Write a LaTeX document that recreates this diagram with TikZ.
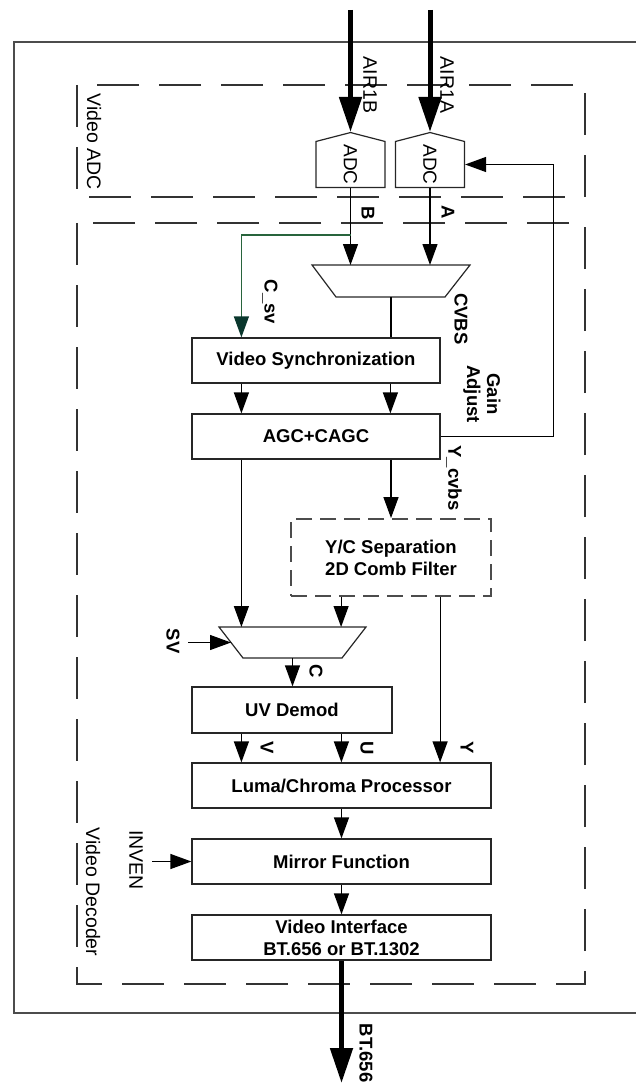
\documentclass[tikz,border=0pt]{standalone}
\usepackage{fontspec}
\setmainfont{Liberation Sans}
\usetikzlibrary{arrows.meta,shapes.symbols}
\definecolor{csvline}{RGB}{40,100,60}
\definecolor{csvtip}{RGB}{10,55,45}

\begin{document}
\begin{tikzpicture}[x=1pt,y=-1pt,
    blk/.style={draw=black!85,line width=1.2pt,fill=white,minimum height=45pt,inner sep=0pt,
      font=\fontsize{18.5}{22}\selectfont\bfseries},
    mux/.style={draw=black!85,line width=1.2pt,line join=miter},
    adc/.style={draw=black!85,line width=1.2pt,signal,signal to=west,signal pointer angle=151,
      rotate=-90,minimum width=55pt,minimum height=69pt,inner sep=0pt,
      font=\fontsize{19}{20}\selectfont},
    lbl/.style={rotate=-90,inner sep=0pt,font=\fontsize{18.5}{20}\selectfont\bfseries},
    tag/.style={rotate=-90,inner sep=0pt,font=\fontsize{19.5}{21}\selectfont},
    arr/.style={line width=1.2pt,-{Triangle[length=21pt,width=15pt]}},
    bigarr/.style={line width=5pt,-{Triangle[length=35pt,width=22pt]}},
    csv/.style={csvline,line width=1.2pt,-{Triangle[length=21pt,width=15pt,color=csvtip]}},
    dashbox/.style={draw=black!80,line width=1.8pt,dash pattern=on 42pt off 20pt},
  ]
  \useasboundingbox (0,0) rectangle (636,1083);
  \clip (0,0) rectangle (636,1083);

  % frame and groups
  \draw[draw=black!70,line width=1.5pt] (14,42) rectangle (650,1013);
  \draw[dashbox] (77,85) rectangle (585,197);
  \draw[dashbox] (77,223) rectangle (585,984);
  \node[tag] (adcgrp) at (94,142) {Video ADC};
  \node[tag] (decgrp) at (93,892) {Video Decoder};

  % blocks
  \node[adc] (adcb) at (350.5,164.5) {ADC};
  \node[adc] (adca) at (430,164.5) {ADC};
  \draw[mux] (312,265) -- (470,265) -- (445,297) -- (336,297) -- cycle;
  \coordinate (cvbstop) at (391,265);
  \coordinate (cvbsbot) at (391,297);
  \node[blk,minimum width=248pt] (vsync) at (316,360.5) {Video Synchronization};
  \node[blk,minimum width=248pt] (agc) at (316,436.5) {AGC+CAGC};
  \node[blk,minimum width=200pt,minimum height=77pt,align=center,draw=black!70,line width=1.8pt,
    dash pattern=on 16pt off 8pt] (comb) at (391,557.5) {Y/C Separation\\2D Comb Filter};
  \draw[mux] (219,627) -- (366,627) -- (342,658) -- (243,658) -- cycle;
  \coordinate (svtop) at (292.5,627);
  \coordinate (svbot) at (292.5,658);
  \coordinate (svleft) at (231,642.5);
  \node[blk,minimum width=200pt,minimum height=46pt] (uvd) at (292,710) {UV Demod};
  \node[blk,minimum width=299pt] (luma) at (341.5,785.5) {Luma/Chroma Processor};
  \node[blk,minimum width=299pt] (mirror) at (341.5,861.5) {Mirror Function};
  \node[blk,minimum width=299pt,align=center] (vif) at (341.5,937.5) {Video Interface\\BT.656 or BT.1302};

  % free ends
  \coordinate (inb) at (350.5,10);
  \coordinate (ina) at (430,10);
  \coordinate (split) at (350.5,235);
  \coordinate (sv) at (188,642.5);
  \coordinate (inven) at (152,861.5);
  \coordinate (out) at (341.5,1083);

  % connectors
  \draw[bigarr] (inb) -- (adcb.west);
  \draw[bigarr] (ina) -- (adca.west);
  \draw[arr] (adcb.east) -- (adcb.east |- cvbstop);
  \draw[arr] (adca.east) -- (adca.east |- cvbstop);
  \draw[csv] (split) -| ([xshift=50pt]vsync.north west);
  \draw[line width=1.2pt] (cvbsbot) -- (cvbsbot |- vsync.north);
  \draw[arr] ([xshift=50pt]vsync.south west) -- ([xshift=50pt]agc.north west);
  \draw[arr] ([xshift=199pt]vsync.south west) -- ([xshift=199pt]agc.north west);
  \draw[arr] (agc.east) -| ([xshift=88pt]adca.north) -- (adca.north);
  \draw[arr] (agc.south -| comb.north) -- (comb.north);
  \draw[arr] ([xshift=50pt]agc.south west) -- ([xshift=50pt]agc.south west |- svtop);
  \draw[arr] ([xshift=51pt]comb.south west) -- ([xshift=51pt]comb.south west |- svtop);
  \draw[arr] ([xshift=150pt]comb.south west) -- ([xshift=150pt]comb.south west |- luma.north);
  \draw[arr] (sv) -- (svleft);
  \draw[arr] (svbot) -- (svbot |- uvd.north);
  \draw[arr] ([xshift=50pt]uvd.south west) -- ([xshift=50pt]uvd.south west |- luma.north);
  \draw[arr] ([xshift=150pt]uvd.south west) -- ([xshift=150pt]uvd.south west |- luma.north);
  \draw[arr] (luma.south) -- (mirror.north);
  \draw[arr] (inven) -- (mirror.west);
  \draw[arr] (mirror.south) -- (vif.north);
  \draw[bigarr] (vif.south) -- (out);

  % signal names
  \node[tag] (air1b) at (370,85) {AIR1B};
  \node[tag] (air1a) at (447,85) {AIR1A};
  \node[lbl] (blbl) at (368,213) {B};
  \node[lbl] (albl) at (448,212) {A};
  \node[lbl] (csvlbl) at (270,302) {C\_sv};
  \node[lbl] (cvbslbl) at (461,319) {CVBS};
  \node[lbl,align=center] (gainlbl) at (482,394) {Gain\\Adjust};
  \node[lbl] (ycvbs) at (454,478) {Y\_cvbs};
  \node[lbl] (svlbl) at (173,641) {SV};
  \node[lbl] (clbl) at (316,671) {C};
  \node[lbl] (vlbl) at (267,748) {V};
  \node[lbl] (ulbl) at (367,748) {U};
  \node[lbl] (ylbl) at (467,748) {Y};
  \node[tag] (invlbl) at (136,860) {INVEN};
  \node[lbl] (btlbl) at (366,1053) {BT.656};
\end{tikzpicture}
\end{document}
